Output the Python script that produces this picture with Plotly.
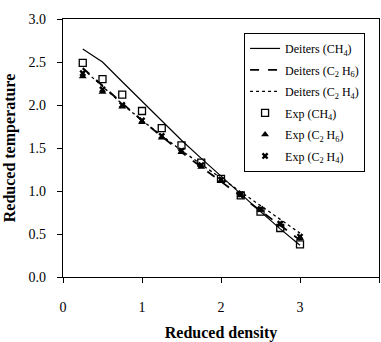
import plotly.graph_objects as go

density = [0.25, 0.5, 0.75, 1.0, 1.25, 1.5, 1.75, 2.0, 2.25, 2.5, 2.75, 3.0]

deiters_ch4 = [2.65, 2.50, 2.27, 2.04, 1.81, 1.59, 1.38, 1.17, 0.96, 0.76, 0.56, 0.37]
deiters_c2h6 = [2.43, 2.22, 2.02, 1.82, 1.63, 1.45, 1.28, 1.11, 0.94, 0.77, 0.60, 0.43]
deiters_c2h4 = [2.42, 2.21, 2.01, 1.82, 1.64, 1.47, 1.31, 1.15, 0.99, 0.83, 0.67, 0.51]

exp_ch4 = [2.49, 2.30, 2.12, 1.93, 1.73, 1.53, 1.33, 1.14, 0.95, 0.76, 0.57, 0.38]
exp_c2h6 = [2.33, 2.15, 1.98, 1.80, 1.62, 1.45, 1.28, 1.12, 0.95, 0.78, 0.61, 0.45]
exp_c2h4 = [2.37, 2.18, 2.00, 1.82, 1.64, 1.47, 1.30, 1.13, 0.96, 0.79, 0.62, 0.47]

names = [
    "Deiters (CH<sub>4</sub>)",
    "Deiters (C<sub>2</sub> H<sub>6</sub>)",
    "Deiters (C<sub>2</sub> H<sub>4</sub>)",
    "Exp (CH<sub>4</sub>)",
    "Exp (C<sub>2</sub> H<sub>6</sub>)",
    "Exp (C<sub>2</sub> H<sub>4</sub>)",
]

fig = go.Figure()
fig.add_trace(go.Scatter(x=density, y=deiters_ch4, mode="lines", name=names[0], legendgroup="g0",
                         line=dict(color="black", width=1.2, dash="solid")))
fig.add_trace(go.Scatter(x=density, y=deiters_c2h6, mode="lines", name=names[1], legendgroup="g1",
                         line=dict(color="black", width=1.8, dash="dash")))
fig.add_trace(go.Scatter(x=density, y=deiters_c2h4, mode="lines", name=names[2], legendgroup="g2",
                         line=dict(color="black", width=1.3, dash="dot")))
fig.add_trace(go.Scatter(x=density, y=exp_ch4, mode="markers", name=names[3], legendgroup="g3",
                         marker=dict(symbol="square-open", size=7, color="black",
                                     line=dict(width=1.3, color="black"))))
fig.add_trace(go.Scatter(x=density, y=exp_c2h6, mode="markers", name=names[4], legendgroup="g4",
                         marker=dict(symbol="triangle-up", size=7, color="black")))
fig.add_trace(go.Scatter(x=density, y=exp_c2h4, mode="markers", name=names[5], legendgroup="g5",
                         marker=dict(symbol="x", size=6, color="black")))

axis_common = dict(
    showline=True, linecolor="black", linewidth=1.2, mirror=True,
    showgrid=False, zeroline=False, ticks="outside", ticklen=5,
    tickcolor="black", tickwidth=1,
    tickfont=dict(family="Liberation Serif", size=14, color="black"),
)

fig.update_layout(
    width=381, height=342,
    margin=dict(l=63, r=2, t=19, b=65),
    paper_bgcolor="white", plot_bgcolor="white",
    font=dict(family="Liberation Serif", color="black"),
    xaxis=dict(range=[0, 4], dtick=1, tick0=0,
               title=dict(text="<b>Reduced density</b>",
                          font=dict(family="Liberation Serif", size=16), standoff=14),
               ticklabelstandoff=12, **axis_common),
    yaxis=dict(range=[0, 3], dtick=0.5, tick0=0, tickformat=".1f",
               title=dict(text="<b>Reduced temperature</b>",
                          font=dict(family="Liberation Serif", size=16), standoff=8),
               ticklabelstandoff=8, **axis_common),
    legend=dict(x=0.573, y=0.946, xanchor="left", yanchor="top",
                bgcolor="white", bordercolor="black", borderwidth=1,
                font=dict(family="Liberation Serif", size=12, color="black"),
                itemwidth=30, tracegroupgap=2.5, traceorder="grouped"),
    showlegend=True,
)

fig.write_html("out.html")
